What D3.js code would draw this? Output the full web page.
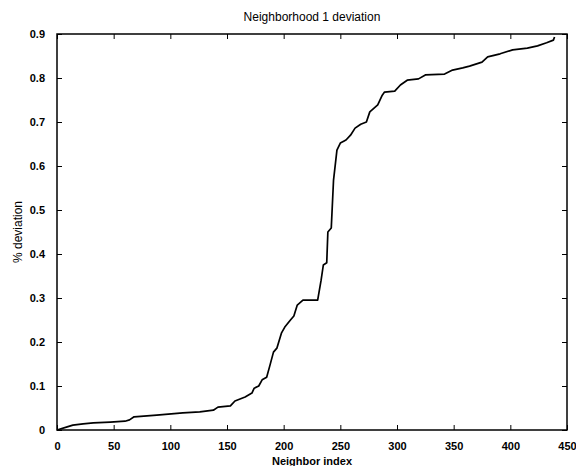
<!DOCTYPE html>
<meta charset="utf-8">
<style>
body { margin: 0; background: #fff; }
.axis text { font: bold 11px "Liberation Sans", Arial, sans-serif; fill: #000; }
.axis line { stroke: #000; stroke-width: 1; }
.axis path { display: none; }
.frame { fill: none; stroke: #000; stroke-width: 1.5; }
.curve { fill: none; stroke: #000; stroke-width: 1.7; stroke-linejoin: round; }
.title { font: 12px "Liberation Sans", Arial, sans-serif; }
.label { font: bold 11px "Liberation Sans", Arial, sans-serif; }
.ylabel { font: 12px "Liberation Sans", Arial, sans-serif; }
</style>
<body>
<script src="https://d3js.org/d3.v7.min.js"></script>
<script>
// sorted deviation per neighbor
var neighborIndex = [0, 9, 14, 23, 32, 47, 60, 64, 68, 88, 111, 126, 138, 142, 153, 157, 166, 172, 174, 178,
  181, 185, 188, 191, 194, 198, 201, 206, 209, 212, 217, 230, 233, 235, 238, 239, 242, 244, 247, 250,
  255, 259, 263, 268, 273, 276, 283, 287, 289, 298, 303, 309, 319, 325, 342, 349, 358, 364, 375, 380,
  391, 402, 415, 424, 432, 438, 439];
var deviation = [0, 0.007, 0.011, 0.014, 0.016, 0.018, 0.020, 0.023, 0.030, 0.034, 0.039, 0.041, 0.045, 0.052, 0.055, 0.066, 0.075, 0.084, 0.095, 0.100,
  0.114, 0.120, 0.148, 0.177, 0.186, 0.220, 0.234, 0.250, 0.259, 0.284, 0.295, 0.295, 0.340, 0.375, 0.380, 0.450, 0.459, 0.568, 0.636, 0.652,
  0.659, 0.670, 0.686, 0.695, 0.700, 0.723, 0.739, 0.761, 0.768, 0.770, 0.784, 0.795, 0.798, 0.807, 0.809, 0.818, 0.823, 0.827, 0.836, 0.848,
  0.855, 0.864, 0.868, 0.873, 0.880, 0.886, 0.893];
var xTicks = [0, 50, 100, 150, 200, 250, 300, 350, 400, 450];
var yTicks = [0, 0.1, 0.2, 0.3, 0.4, 0.5, 0.6, 0.7, 0.8, 0.9];

var margin = {top: 34, right: 9, bottom: 36, left: 57},
    width = 576 - margin.left - margin.right,
    height = 466 - margin.top - margin.bottom;

var svg = d3.select("body").append("svg")
    .attr("width", 576)
    .attr("height", 466);

var g = svg.append("g")
    .attr("transform", "translate(" + margin.left + "," + margin.top + ")");

var x = d3.scaleLinear().domain([0, 450]).range([0, width]);
var y = d3.scaleLinear().domain([0, 0.9]).range([height, 0]);

var fmt = function(d) { return d === 0 ? "0" : d3.format(".1f")(d); };

// inward ticks on all four sides, matlab style
g.append("g").attr("class", "axis")
    .attr("transform", "translate(0," + height + ")")
    .call(d3.axisBottom(x).tickValues(xTicks).tickSize(-5).tickPadding(12));
g.append("g").attr("class", "axis")
    .call(d3.axisTop(x).tickValues(xTicks).tickSize(-5).tickFormat(""));
g.append("g").attr("class", "axis")
    .call(d3.axisLeft(y).tickValues(yTicks).tickSize(-5).tickPadding(12).tickFormat(fmt));
g.append("g").attr("class", "axis")
    .attr("transform", "translate(" + width + ",0)")
    .call(d3.axisRight(y).tickValues(yTicks).tickSize(-5).tickFormat(""));

g.append("rect").attr("class", "frame")
    .attr("width", width).attr("height", height);

var line = d3.line()
    .x(function(d, i) { return x(neighborIndex[i]); })
    .y(function(d) { return y(d); });

g.append("path").attr("class", "curve")
    .attr("d", line(deviation));

svg.append("text").attr("class", "title")
    .attr("x", margin.left + width / 2).attr("y", 21)
    .attr("text-anchor", "middle")
    .text("Neighborhood 1 deviation");

svg.append("text").attr("class", "label")
    .attr("x", margin.left + width / 2).attr("y", 465)
    .attr("text-anchor", "middle")
    .text("Neighbor index");

svg.append("text").attr("class", "ylabel")
    .attr("transform", "translate(22," + (margin.top + height / 2) + ") rotate(-90)")
    .attr("text-anchor", "middle")
    .text("% deviation");
</script>
